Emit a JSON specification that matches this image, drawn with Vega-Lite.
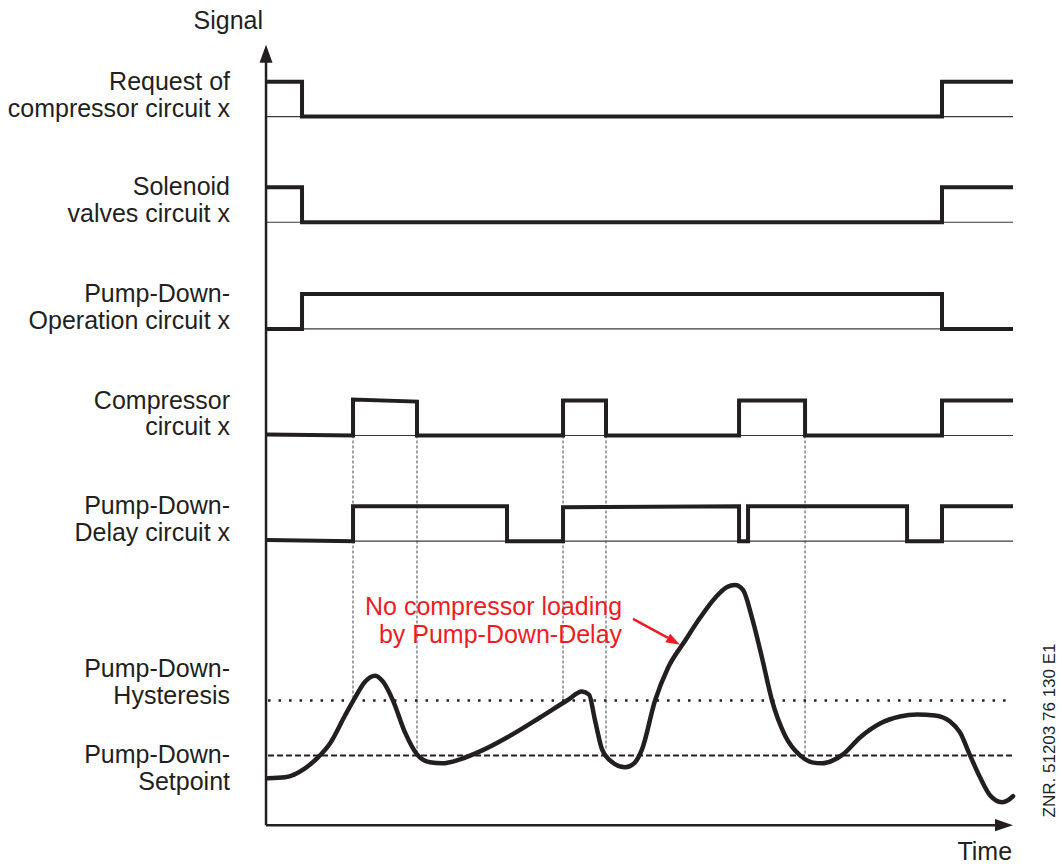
{
  "$schema": "https://vega.github.io/schema/vega-lite/v6.json",
  "width": 1062,
  "height": 866,
  "padding": 0,
  "autosize": {"type": "fit", "contains": "padding"},
  "background": "white",
  "config": {"view": {"stroke": null}, "text": {"font": "Liberation Sans"}},
  "datasets": {
    "levels": [
      {"signal": "request", "t": 0, "t2": 99.6, "v": 90.81},
      {"signal": "solenoid", "t": 0, "t2": 99.6, "v": 77.27},
      {"signal": "operation", "t": 0, "t2": 99.6, "v": 63.6},
      {"signal": "compressor", "t": 0, "t2": 99.6, "v": 49.94},
      {"signal": "delay", "t": 0, "t2": 99.6, "v": 36.4}
    ],
    "thresholds": [
      {"kind": "hysteresis", "t": 0.27, "t2": 99.5, "v": 15.97},
      {"kind": "setpoint", "t": 0.27, "t2": 99.5, "v": 8.94}
    ],
    "switching": [
      {"t": 11.6, "v": 49.94, "v2": 15.97},
      {"t": 20.13, "v": 49.94, "v2": 8.94},
      {"t": 39.6, "v": 49.94, "v2": 16.1},
      {"t": 45.33, "v": 49.94, "v2": 9.71},
      {"t": 71.87, "v": 49.94, "v2": 8.94}
    ],
    "axes": [
      {"axis": "signal", "t": 0, "v": 0, "t2": 0, "v2": 98.1},
      {"axis": "time", "t": 0, "v": 0, "t2": 97.33, "v2": 0}
    ],
    "heads": [
      {"axis": "signal", "t": 0, "v": 98.85},
      {"axis": "time", "t": 98.4, "v": 0}
    ],
    "signals": [
      {"signal": "request", "i": 1, "t": 0, "v": 95.28},
      {"signal": "request", "i": 2, "t": 4.8, "v": 95.28},
      {"signal": "request", "i": 3, "t": 4.8, "v": 90.81},
      {"signal": "request", "i": 4, "t": 90.13, "v": 90.81},
      {"signal": "request", "i": 5, "t": 90.13, "v": 95.28},
      {"signal": "request", "i": 6, "t": 99.6, "v": 95.28},
      {"signal": "solenoid", "i": 1, "t": 0, "v": 81.74},
      {"signal": "solenoid", "i": 2, "t": 4.8, "v": 81.74},
      {"signal": "solenoid", "i": 3, "t": 4.8, "v": 77.27},
      {"signal": "solenoid", "i": 4, "t": 90.13, "v": 77.27},
      {"signal": "solenoid", "i": 5, "t": 90.13, "v": 81.74},
      {"signal": "solenoid", "i": 6, "t": 99.6, "v": 81.74},
      {"signal": "operation", "i": 1, "t": 0, "v": 63.6},
      {"signal": "operation", "i": 2, "t": 4.8, "v": 63.6},
      {"signal": "operation", "i": 3, "t": 4.8, "v": 68.07},
      {"signal": "operation", "i": 4, "t": 90.13, "v": 68.07},
      {"signal": "operation", "i": 5, "t": 90.13, "v": 63.6},
      {"signal": "operation", "i": 6, "t": 99.6, "v": 63.6},
      {"signal": "compressor", "i": 1, "t": 0, "v": 50.07},
      {"signal": "compressor", "i": 2, "t": 11.6, "v": 49.94},
      {"signal": "compressor", "i": 3, "t": 11.6, "v": 54.54},
      {"signal": "compressor", "i": 4, "t": 20.13, "v": 54.28},
      {"signal": "compressor", "i": 5, "t": 20.13, "v": 49.94},
      {"signal": "compressor", "i": 6, "t": 39.6, "v": 49.94},
      {"signal": "compressor", "i": 7, "t": 39.6, "v": 54.41},
      {"signal": "compressor", "i": 8, "t": 45.33, "v": 54.41},
      {"signal": "compressor", "i": 9, "t": 45.33, "v": 49.94},
      {"signal": "compressor", "i": 10, "t": 63.07, "v": 49.94},
      {"signal": "compressor", "i": 11, "t": 63.07, "v": 54.41},
      {"signal": "compressor", "i": 12, "t": 71.87, "v": 54.41},
      {"signal": "compressor", "i": 13, "t": 71.87, "v": 49.94},
      {"signal": "compressor", "i": 14, "t": 90.13, "v": 49.94},
      {"signal": "compressor", "i": 15, "t": 90.13, "v": 54.41},
      {"signal": "compressor", "i": 16, "t": 99.6, "v": 54.41},
      {"signal": "delay", "i": 1, "t": 0, "v": 36.53},
      {"signal": "delay", "i": 2, "t": 11.6, "v": 36.4},
      {"signal": "delay", "i": 3, "t": 11.6, "v": 40.87},
      {"signal": "delay", "i": 4, "t": 32.13, "v": 40.87},
      {"signal": "delay", "i": 5, "t": 32.13, "v": 36.4},
      {"signal": "delay", "i": 6, "t": 39.6, "v": 36.4},
      {"signal": "delay", "i": 7, "t": 39.6, "v": 40.74},
      {"signal": "delay", "i": 8, "t": 63.07, "v": 40.87},
      {"signal": "delay", "i": 9, "t": 63.07, "v": 36.4},
      {"signal": "delay", "i": 10, "t": 64.27, "v": 36.4},
      {"signal": "delay", "i": 11, "t": 64.27, "v": 40.87},
      {"signal": "delay", "i": 12, "t": 85.47, "v": 40.87},
      {"signal": "delay", "i": 13, "t": 85.47, "v": 36.4},
      {"signal": "delay", "i": 14, "t": 90.13, "v": 36.4},
      {"signal": "delay", "i": 15, "t": 90.13, "v": 40.87},
      {"signal": "delay", "i": 16, "t": 99.6, "v": 40.87}
    ],
    "pressure": [
      {"t": 0.27, "v": 6.0},
      {"t": 2.53, "v": 6.13},
      {"t": 5.2, "v": 7.28},
      {"t": 6.93, "v": 8.69},
      {"t": 8.53, "v": 10.47},
      {"t": 10.53, "v": 14.05},
      {"t": 11.87, "v": 16.35},
      {"t": 13.2, "v": 18.39},
      {"t": 14.53, "v": 19.16},
      {"t": 15.6, "v": 18.39},
      {"t": 16.93, "v": 15.97},
      {"t": 18.53, "v": 11.88},
      {"t": 20.13, "v": 9.07},
      {"t": 21.87, "v": 8.05},
      {"t": 23.47, "v": 7.92},
      {"t": 25.87, "v": 8.43},
      {"t": 28.53, "v": 9.45},
      {"t": 32.13, "v": 11.24},
      {"t": 36.53, "v": 13.8},
      {"t": 40.13, "v": 15.97},
      {"t": 42.13, "v": 17.12},
      {"t": 43.07, "v": 16.73},
      {"t": 43.87, "v": 13.41},
      {"t": 44.8, "v": 9.71},
      {"t": 45.87, "v": 8.3},
      {"t": 47.87, "v": 7.41},
      {"t": 49.07, "v": 7.92},
      {"t": 50.13, "v": 9.71},
      {"t": 51.87, "v": 15.97},
      {"t": 53.6, "v": 20.18},
      {"t": 55.87, "v": 23.63},
      {"t": 57.87, "v": 26.57},
      {"t": 59.87, "v": 29.12},
      {"t": 61.47, "v": 30.53},
      {"t": 62.53, "v": 30.78},
      {"t": 63.6, "v": 30.14},
      {"t": 64.8, "v": 26.57},
      {"t": 66.13, "v": 21.46},
      {"t": 67.47, "v": 15.97},
      {"t": 69.2, "v": 11.5},
      {"t": 71.2, "v": 8.94},
      {"t": 72.8, "v": 8.05},
      {"t": 74.13, "v": 7.92},
      {"t": 75.6, "v": 8.3},
      {"t": 76.93, "v": 9.07},
      {"t": 79.2, "v": 11.24},
      {"t": 81.87, "v": 13.03},
      {"t": 84.53, "v": 13.93},
      {"t": 86.8, "v": 14.18},
      {"t": 89.2, "v": 14.05},
      {"t": 91.2, "v": 13.28},
      {"t": 92.53, "v": 11.88},
      {"t": 93.87, "v": 8.94},
      {"t": 95.2, "v": 6.13},
      {"t": 96.53, "v": 3.83},
      {"t": 98.13, "v": 2.94},
      {"t": 98.93, "v": 3.2},
      {"t": 99.6, "v": 3.71}
    ],
    "labels": [
      {"t": -0.4, "v": 102.05, "text": "Signal"},
      {"t": -4.8, "v": 94.26, "text": "Request of"},
      {"t": -4.8, "v": 90.81, "text": "compressor circuit x"},
      {"t": -4.8, "v": 80.72, "text": "Solenoid"},
      {"t": -4.8, "v": 77.27, "text": "valves circuit x"},
      {"t": -4.8, "v": 67.05, "text": "Pump-Down-"},
      {"t": -4.8, "v": 63.6, "text": "Operation circuit x"},
      {"t": -4.8, "v": 53.39, "text": "Compressor"},
      {"t": -4.8, "v": 49.94, "text": "circuit x"},
      {"t": -4.8, "v": 39.85, "text": "Pump-Down-"},
      {"t": -4.8, "v": 36.4, "text": "Delay circuit x"},
      {"t": -4.8, "v": 19.03, "text": "Pump-Down-"},
      {"t": -4.8, "v": 15.58, "text": "Hysteresis"},
      {"t": -4.8, "v": 7.92, "text": "Pump-Down-"},
      {"t": -4.8, "v": 4.47, "text": "Setpoint"},
      {"t": 99.47, "v": -4.47, "text": "Time"}
    ],
    "note": [
      {"t": 47.47, "v": 26.95, "text": "No compressor loading"},
      {"t": 47.47, "v": 23.37, "text": "by Pump-Down-Delay"}
    ],
    "pointer": [
      {"t": 48.93, "v": 26.44, "t2": 53.6, "v2": 24.01}
    ],
    "pointerHead": [
      {"t": 54.38, "v": 23.55}
    ],
    "drawingNo": [
      {"t": 104.53, "v": 12.14, "text": "ZNR. 51203 76 130 E1"}
    ]
  },
  "encoding": {
    "x": {
      "field": "t",
      "type": "quantitative",
      "scale": {"domain": [-35.47, 106.13], "nice": false, "zero": false},
      "axis": null
    },
    "y": {
      "field": "v",
      "type": "quantitative",
      "scale": {"domain": [-4.85, 105.75], "nice": false, "zero": false},
      "axis": null
    }
  },
  "layer": [
    {
      "data": {"name": "levels"},
      "mark": {"type": "rule", "stroke": "#3a3a3a", "strokeWidth": 1.2},
      "encoding": {"x2": {"field": "t2"}}
    },
    {
      "data": {"name": "switching"},
      "mark": {"type": "rule", "stroke": "#444444", "strokeWidth": 1, "strokeDash": [3, 2]},
      "encoding": {"y2": {"field": "v2"}}
    },
    {
      "data": {"name": "thresholds"},
      "transform": [{"filter": "datum.kind === 'hysteresis'"}],
      "mark": {"type": "rule", "stroke": "#231f20", "strokeWidth": 2.5, "strokeDash": [2.5, 8]},
      "encoding": {"x2": {"field": "t2"}}
    },
    {
      "data": {"name": "thresholds"},
      "transform": [{"filter": "datum.kind === 'setpoint'"}],
      "mark": {"type": "rule", "stroke": "#231f20", "strokeWidth": 2, "strokeDash": [6, 3]},
      "encoding": {"x2": {"field": "t2"}}
    },
    {
      "data": {"name": "axes"},
      "mark": {"type": "rule", "stroke": "#231f20", "strokeWidth": 2.5},
      "encoding": {"x2": {"field": "t2"}, "y2": {"field": "v2"}}
    },
    {
      "data": {"name": "heads"},
      "mark": {"type": "point", "filled": true, "opacity": 1, "size": 324, "color": "#231f20"},
      "encoding": {
        "shape": {
          "field": "axis",
          "type": "nominal",
          "scale": {
            "domain": ["signal", "time"],
            "range": ["M0,-1L0.72,1L-0.72,1Z", "M1,0L-1,0.68L-1,-0.68Z"]
          },
          "legend": null
        }
      }
    },
    {
      "data": {"name": "signals"},
      "mark": {"type": "line", "stroke": "#231f20", "strokeWidth": 4, "strokeJoin": "miter", "strokeCap": "butt"},
      "encoding": {
        "detail": {"field": "signal", "type": "nominal"},
        "order": {"field": "i", "type": "quantitative"}
      }
    },
    {
      "data": {"name": "pressure"},
      "mark": {"type": "line", "stroke": "#231f20", "strokeWidth": 4.5, "interpolate": "monotone", "strokeCap": "round"},
      "encoding": {}
    },
    {
      "data": {"name": "labels"},
      "mark": {"type": "text", "align": "right", "baseline": "alphabetic", "fontSize": 25, "color": "#231f20"},
      "encoding": {"text": {"field": "text", "type": "nominal"}}
    },
    {
      "data": {"name": "note"},
      "mark": {"type": "text", "align": "right", "baseline": "alphabetic", "fontSize": 25, "color": "#ed1c24"},
      "encoding": {"text": {"field": "text", "type": "nominal"}}
    },
    {
      "data": {"name": "pointer"},
      "mark": {"type": "rule", "stroke": "#ed1c24", "strokeWidth": 2.5},
      "encoding": {"x2": {"field": "t2"}, "y2": {"field": "v2"}}
    },
    {
      "data": {"name": "pointerHead"},
      "mark": {"type": "point", "filled": true, "opacity": 1, "shape": "M1,0L-1,0.7L-1,-0.7Z", "size": 196, "angle": 29, "color": "#ed1c24"},
      "encoding": {}
    },
    {
      "data": {"name": "drawingNo"},
      "mark": {"type": "text", "align": "center", "baseline": "middle", "angle": 270, "fontSize": 17, "color": "#231f20"},
      "encoding": {"text": {"field": "text", "type": "nominal"}}
    }
  ]
}
